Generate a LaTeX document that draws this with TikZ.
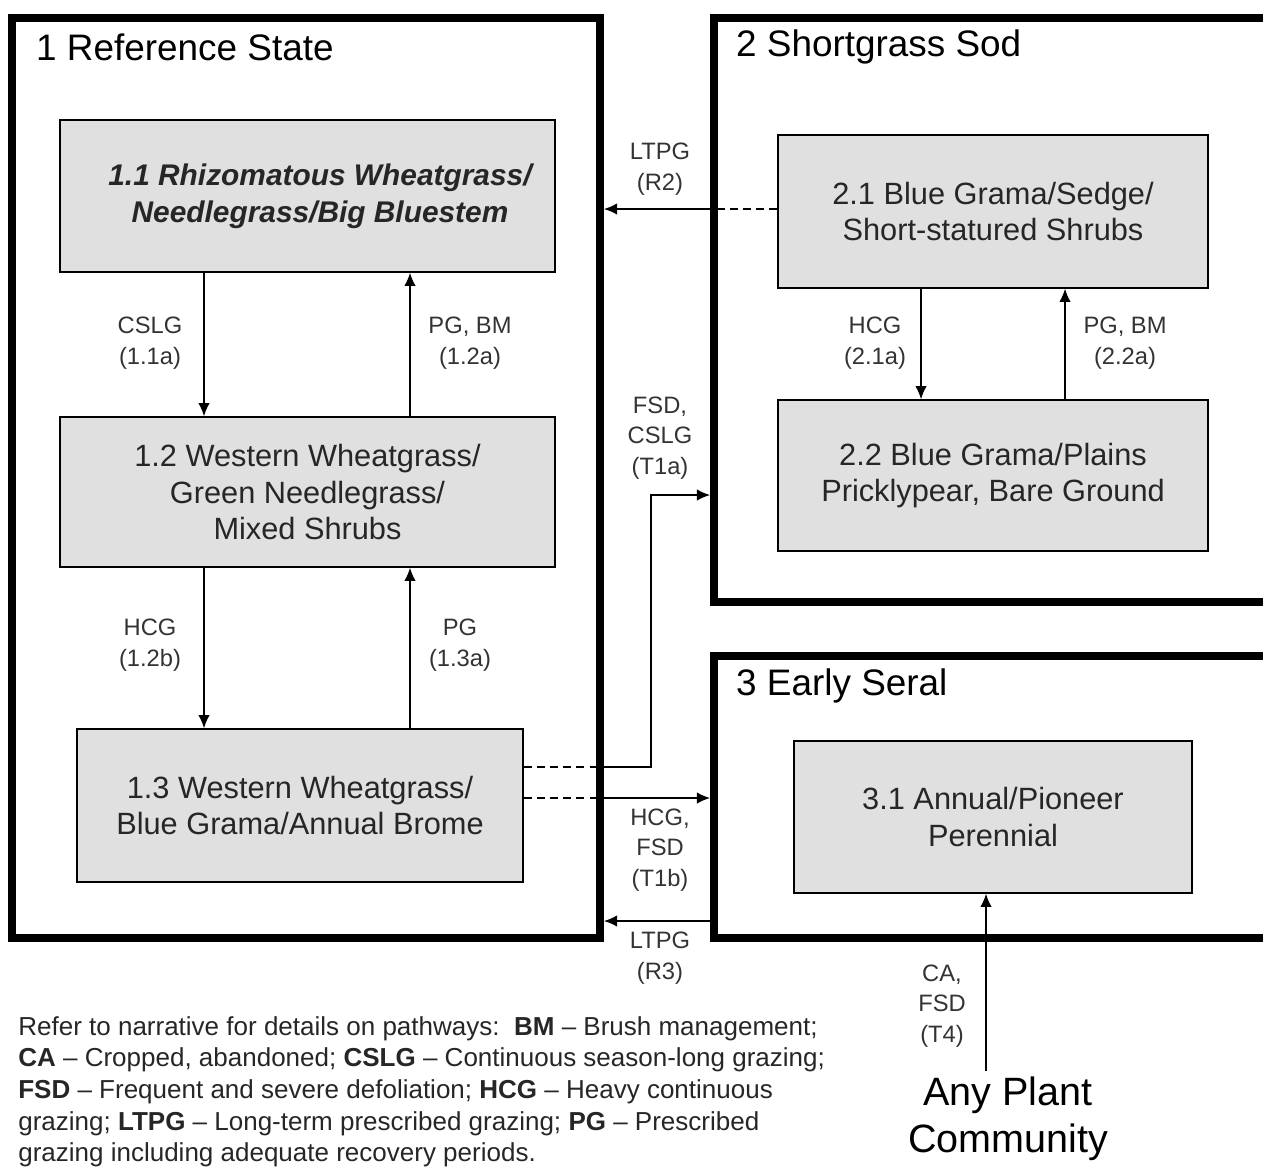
\documentclass[tikz,border=0pt]{standalone}
\usepackage{fontspec}
\setmainfont{Liberation Sans}
\usetikzlibrary{arrows.meta,positioning}
\tikzset{
    statebox/.style={draw,line width=4.5pt,inner sep=0pt},
    phase/.style={draw,line width=0.8pt,fill=black!12,align=center,text=black!85,
        font=\fontsize{17.5}{21}\selectfont},
    lbl/.style={align=center,text=black!80,font=\fontsize{13.5}{17.5}\selectfont},
    statetitle/.style={anchor=west,font=\fontsize{21}{25}\selectfont},
    pw/.style={line width=0.85pt,-{Latex[length=7.5pt,width=6.5pt]}},
    dashpw/.style={line width=0.85pt,dash pattern=on 4.5pt off 3pt}
}
\begin{document}
\begin{tikzpicture}[x=0.02cm,y=-0.02cm]
    \clip (0,0) rectangle (1263,1167);

    % States
    \node[statebox,minimum width=11.76cm,minimum height=18.4cm] (s1) at (306,478) {};
    \node[statebox,minimum width=11.72cm,minimum height=11.68cm] (s2) at (1007,310) {};
    \node[statebox,minimum width=11.72cm,minimum height=5.64cm] (s3) at (1007,797) {};
    \node[statetitle] (t1) at (30,47) {1 Reference State};
    \node[statetitle] (t2) at (730,47) {2 Shortgrass Sod};
    \node[statetitle] (t3) at (730,686) {3 Early Seral};

    % Community phases
    \node[phase,minimum width=9.9cm,minimum height=3.04cm,
        font=\fontsize{17}{21}\selectfont\bfseries\itshape] (b11) at (307.5,196)
        {\hspace*{0.5cm}1.1 Rhizomatous Wheatgrass/\\\hspace*{0.5cm}Needlegrass/Big Bluestem};
    \node[phase,minimum width=9.9cm,minimum height=3.0cm] (b12) at (307.5,492)
        {1.2 Western Wheatgrass/\\Green Needlegrass/\\Mixed Shrubs};
    \node[phase,minimum width=8.92cm,minimum height=3.06cm] (b13) at (300,805.5)
        {1.3 Western Wheatgrass/\\Blue Grama/Annual Brome};
    \node[phase,minimum width=8.6cm,minimum height=3.06cm] (b21) at (993,211.5)
        {2.1 Blue Grama/Sedge/\\Short-statured Shrubs};
    \node[phase,minimum width=8.6cm,minimum height=3.02cm] (b22) at (993,475.5)
        {2.2 Blue Grama/Plains\\Pricklypear, Bare Ground};
    \node[phase,minimum width=7.96cm,minimum height=3.04cm] (b31) at (993,817)
        {3.1 Annual/Pioneer\\Perennial};
    \node[align=center,font=\fontsize{22.5}{26.6}\selectfont] (apc) at (1008,1119)
        {Any Plant\\Community};

    % Pathways within states
    \draw[pw] (b11.south -| 204,0) -- (b12.north -| 204,0);
    \draw[pw] (b12.north -| 410,0) -- (b11.south -| 410,0);
    \draw[pw] (b12.south -| 204,0) -- (b13.north -| 204,0);
    \draw[pw] (b13.north -| 410,0) -- (b12.south -| 410,0);
    \draw[pw] (b21.south -| 921,0) -- (b22.north -| 921,0);
    \draw[pw] (b22.north -| 1065,0) -- (b21.south -| 1065,0);

    % Transitions and restorations
    \coordinate (t1a) at (651,495);
    \draw[dashpw] (b21.west |- 0,209) -- (s2.west |- 0,209);
    \draw[pw] (s2.west |- 0,209) -- (s1.east |- 0,209);
    \draw[dashpw] (b13.east |- 0,767) -- (s1.east |- 0,767);
    \draw[pw] (s1.east |- 0,767) -| (t1a) -- (s2.west |- t1a);
    \draw[dashpw] (b13.east |- 0,798) -- (s1.east |- 0,798);
    \draw[pw] (s1.east |- 0,798) -- (s3.west |- 0,798);
    \draw[pw] (s3.west |- 0,921) -- (s1.east |- 0,921);
    \draw[pw] (apc.north -| 986,0) -- (b31.south -| 986,0);

    % Labels
    \node[lbl] (l11a) at (150,343) {CSLG\\(1.1a)};
    \node[lbl] (l12a) at (470,343) {PG, BM\\(1.2a)};
    \node[lbl] (l12b) at (150,645) {HCG\\(1.2b)};
    \node[lbl] (l13a) at (460,645) {PG\\(1.3a)};
    \node[lbl] (l21a) at (875,343) {HCG\\(2.1a)};
    \node[lbl] (l22a) at (1125,343) {PG, BM\\(2.2a)};
    \node[lbl] (lr2) at (660,169) {LTPG\\(R2)};
    \node[lbl] (lt1a) at (660,438) {FSD,\\CSLG\\(T1a)};
    \node[lbl] (lt1b) at (660,850) {HCG,\\FSD\\(T1b)};
    \node[lbl] (lr3) at (660,958) {LTPG\\(R3)};
    \node[lbl] (lt4) at (942,1006) {CA,\\FSD\\(T4)};

    % Legend
    \node[anchor=north west,align=left,inner sep=0pt,text=black!85,
        font=\fontsize{14.8}{18}\selectfont] (key) at (18,1016)
        {Refer to narrative for details on pathways:\ \ \textbf{BM} – Brush management;\\
        \textbf{CA} – Cropped, abandoned; \textbf{CSLG} – Continuous season-long grazing;\\
        \textbf{FSD} – Frequent and severe defoliation; \textbf{HCG} – Heavy continuous\\
        grazing; \textbf{LTPG} – Long-term prescribed grazing; \textbf{PG} – Prescribed\\
        grazing including adequate recovery periods.};
\end{tikzpicture}
\end{document}
